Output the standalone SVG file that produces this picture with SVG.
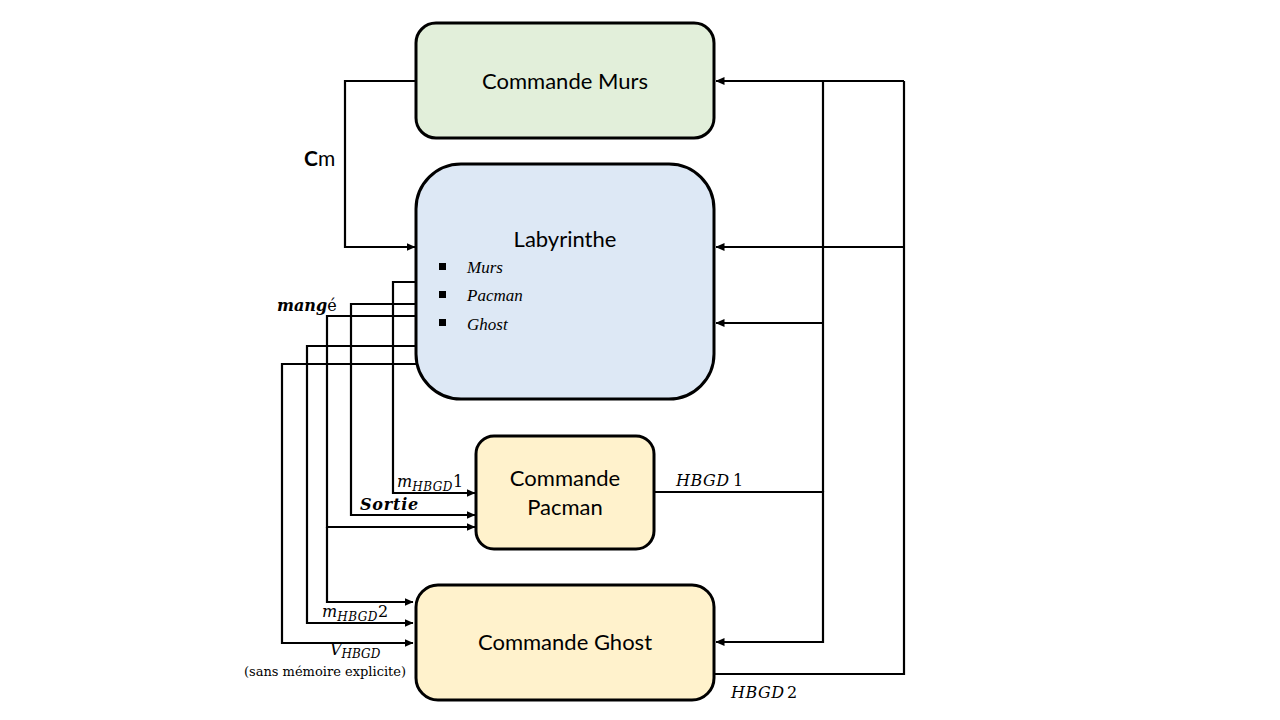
<svg xmlns="http://www.w3.org/2000/svg" width="1280" height="720" viewBox="0 0 1280 720">
<style>
.node{stroke:#000;stroke-width:3}
.lbl{font-family:Lato,"Liberation Sans",sans-serif;font-size:22px;fill:#000;text-anchor:middle}
.conn{fill:none;stroke:#000;stroke-width:2.2}
.math{font-family:"DejaVu Serif","Liberation Serif",serif;font-style:italic;font-size:16px;fill:#000}
.sub{font-size:12px}
.scr{font-family:"Liberation Serif",serif;font-style:italic;font-size:17px;fill:#000}
</style>
<defs>
<marker id="ah" markerWidth="9" markerHeight="8" refX="8.5" refY="4" orient="auto" markerUnits="userSpaceOnUse">
<path d="M0,0 L9,4 L0,8 Z" fill="#000"/>
</marker>
</defs>
<rect width="1280" height="720" fill="#fff"/>
<g id="connectors">
<path class="conn" d="M416,81 H345 V247 H415" marker-end="url(#ah)"/>
<path class="conn" d="M904,81 H716" marker-end="url(#ah)"/>
<path class="conn" d="M904,247 H716" marker-end="url(#ah)"/>
<path class="conn" d="M823,323 H716" marker-end="url(#ah)"/>
<path class="conn" d="M823,81 V323"/>
<path class="conn" d="M654,492 H823 V642 H716" marker-end="url(#ah)"/>
<path class="conn" d="M823,323 V492"/>
<path class="conn" d="M714,674 H904 V81"/>
<path class="conn" d="M416,282 H393 V493 H475" marker-end="url(#ah)"/>
<path class="conn" d="M416,304 H351 V515 H475" marker-end="url(#ah)"/>
<path class="conn" d="M416,316 H327 V527 H475" marker-end="url(#ah)"/>
<path class="conn" d="M327,527 V602 H413" marker-end="url(#ah)"/>
<path class="conn" d="M416,346 H307 V623 H413" marker-end="url(#ah)"/>
<path class="conn" d="M416,364 H282 V643 H413" marker-end="url(#ah)"/>
</g>
<g id="murs">
<rect class="node" x="416" y="23" width="298" height="115" rx="20" fill="#e2efda"/>
<text class="lbl" x="565" y="89">Commande Murs</text>
</g>
<g id="labyrinthe">
<rect class="node" x="416" y="164" width="298" height="235" rx="45" fill="#dde8f5"/>
<text class="lbl" x="565" y="247">Labyrinthe</text>
<rect x="439" y="263" width="7" height="7" fill="#000"/>
<rect x="439" y="291" width="7" height="7" fill="#000"/>
<rect x="439" y="319" width="7" height="7" fill="#000"/>
<text class="scr" x="467" y="273">Murs</text>
<text class="scr" x="467" y="301">Pacman</text>
<text class="scr" x="467" y="330">Ghost</text>
</g>
<g id="pacman">
<rect class="node" x="476" y="436" width="178" height="113" rx="18" fill="#fff2cc"/>
<text class="lbl" x="565" y="486">Commande</text>
<text class="lbl" x="565" y="515">Pacman</text>
</g>
<g id="ghost">
<rect class="node" x="416" y="585" width="298" height="115" rx="22" fill="#fff2cc"/>
<text class="lbl" x="565" y="650">Commande Ghost</text>
</g>
<g id="labels">
<text x="304" y="166" style="font-family:Lato,'Liberation Sans',sans-serif;font-size:21px"><tspan font-weight="bold">C</tspan>m</text>
<text class="math" x="277" y="311" font-weight="bold">mang<tspan font-weight="normal" font-style="normal">é</tspan></text>
<text class="math" x="397" y="487">m<tspan class="sub" dy="4" letter-spacing="0.5">HBGD</tspan><tspan dy="-4" font-style="normal">1</tspan></text>
<text class="math" x="360" y="510" font-weight="bold" letter-spacing="0.8">Sortie</text>
<text class="math" x="322" y="617">m<tspan class="sub" dy="4" letter-spacing="0.5">HBGD</tspan><tspan dy="-4" font-style="normal">2</tspan></text>
<text class="math" x="330" y="655" font-size="15">V<tspan class="sub" font-size="11" dy="3">HBGD</tspan></text>
<text x="325" y="676" style="font-family:'DejaVu Serif','Liberation Serif',serif;font-size:13px;text-anchor:middle">(sans mémoire explicite)</text>
<text class="math" x="676" y="486" font-size="15" letter-spacing="0.5">HBGD<tspan x="733" font-style="normal">1</tspan></text>
<text class="math" x="731" y="698" font-size="15" letter-spacing="0.5">HBGD<tspan x="787" font-style="normal">2</tspan></text>
</g>
</svg>
